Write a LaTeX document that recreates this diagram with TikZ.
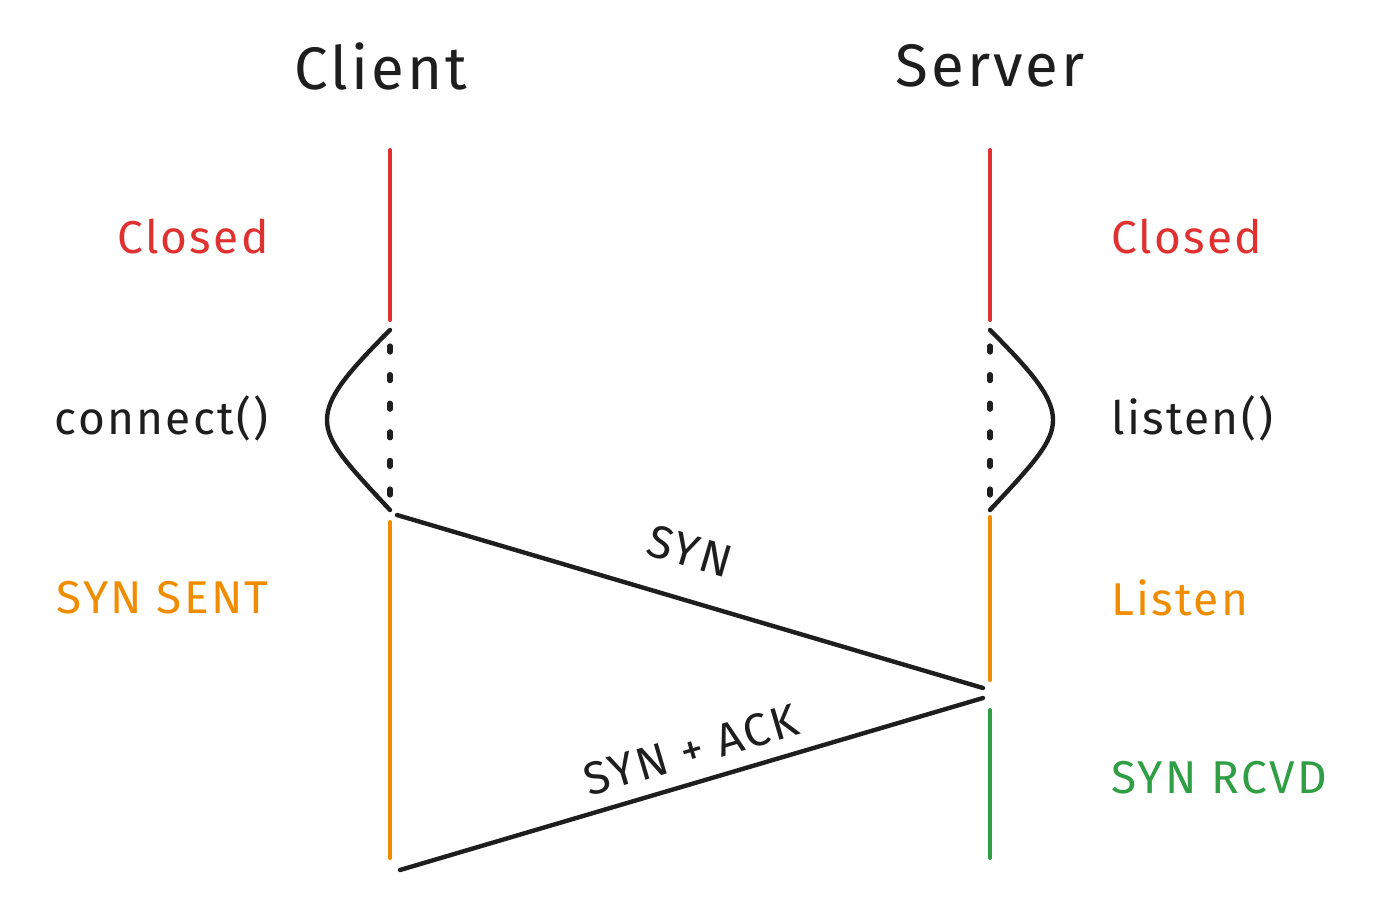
\documentclass[tikz,border=0pt]{standalone}
\usepackage{fontspec}
\setmainfont{Fira Sans}
\newfontfamily\hand[LetterSpace=5]{Fira Sans}
\definecolor{cred}{HTML}{E03131}
\definecolor{corange}{HTML}{F08C00}
\definecolor{cgreen}{HTML}{2F9E44}
\definecolor{cblack}{HTML}{1E1E1E}
\begin{document}
\begin{tikzpicture}[x=0.5pt,y=-0.5pt,
  title/.style={font=\hand\fontsize{30}{34}\selectfont, text=cblack},
  lbl/.style={font=\hand\fontsize{23}{27}\selectfont, inner sep=0pt},
  msg/.style={font=\hand\fontsize{23}{27}\selectfont, text=cblack, inner sep=0pt},
  life/.style={line width=2pt, line cap=round},
  conn/.style={line width=2.2pt, line cap=round, cblack},
  dots/.style={line width=2.6pt, line cap=round, cblack, dash pattern=on 3pt off 11.3pt},
  arc/.style={line width=2.2pt, line cap=round, cblack}]
\useasboundingbox (0,0) rectangle (1376,900);
% titles
\node[title] (client) at (381,66) {Client};
\node[title] (server) at (990,66) {Server};
% client lifeline points
\coordinate (c1) at (390,150);
\coordinate (c2) at (390,320);
\coordinate (c3) at (390,330);
\coordinate (c4) at (390,510);
\coordinate (c5) at (390,522);
\coordinate (c6) at (390,858);
\coordinate (cd1) at (390,346);
\coordinate (cd2) at (390,495);
\coordinate (cs) at (397,515);
\coordinate (ce) at (400,870);
% server lifeline points
\coordinate (s1) at (990,150);
\coordinate (s2) at (990,320);
\coordinate (s3) at (990,330);
\coordinate (s4) at (990,510);
\coordinate (s5) at (990,517);
\coordinate (s6) at (990,680);
\coordinate (s7) at (990,710);
\coordinate (s8) at (990,858);
\coordinate (sd1) at (990,346);
\coordinate (sd2) at (990,495);
\coordinate (sa) at (983,688);
\coordinate (sb) at (983,698);
% lifelines
\draw[life, cred] (c1) -- (c2);
\draw[dots] (cd1) -- (cd2);
\draw[life, corange] (c5) -- (c6);
\draw[life, cred] (s1) -- (s2);
\draw[dots] (sd1) -- (sd2);
\draw[life, corange] (s5) -- (s6);
\draw[life, cgreen] (s7) -- (s8);
% bulges
\draw[arc] (c3) .. controls (345,375) and (327,398) .. (327,420)
  .. controls (327,442) and (345,462) .. (c4);
\draw[arc] (s3) .. controls (1035,375) and (1053,398) .. (1053,420)
  .. controls (1053,442) and (1035,462) .. (s4);
% messages
\draw[conn] (cs) -- (sa);
\draw[conn] (sb) -- (ce);
\node[msg, rotate=-16.4] (syn) at (690,551) {SYN};
\node[msg, rotate=16.4] (synack) at (691,750) {SYN + ACK};
% left labels
\node[lbl, text=cred, anchor=east] (lclosed) at (269,237) {Closed};
\node[lbl, text=cblack, anchor=east] (lconnect) at (269,418) {connect()};
\node[lbl, text=corange, anchor=east] (lsent) at (269,598) {SYN SENT};
% right labels
\node[lbl, text=cred, anchor=west] (rclosed) at (1111,237) {Closed};
\node[lbl, text=cblack, anchor=west] (rlisten) at (1111,418) {listen()};
\node[lbl, text=corange, anchor=west] (rlisten2) at (1111,598) {Listen};
\node[lbl, text=cgreen, anchor=west] (rrcvd) at (1111,778) {SYN RCVD};
\end{tikzpicture}
\end{document}
